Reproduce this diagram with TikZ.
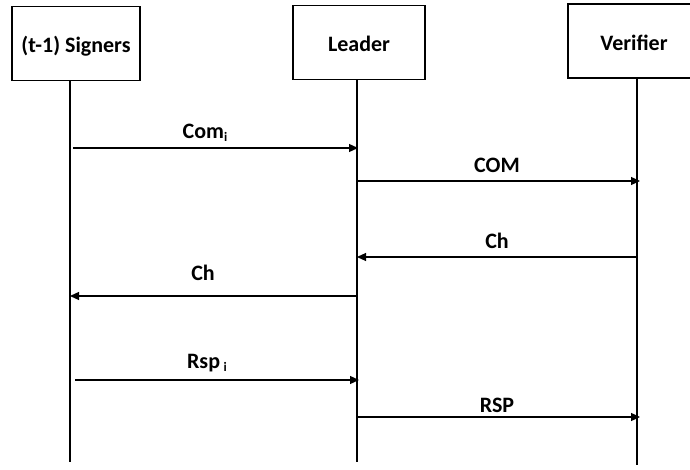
\documentclass[tikz,border=0pt]{standalone}
\usepackage{fontspec}
\setmainfont{Carlito}
\usetikzlibrary{arrows.meta}
\begin{document}
\begin{tikzpicture}[x=1pt,y=-1pt,
  actor/.style={draw,line width=1.2pt,minimum width=#1,minimum height=74pt,inner sep=0pt,
    text height=19pt,text depth=0pt,font=\bfseries\fontsize{22}{24}\selectfont},
  lifeline/.style={line width=1.2pt},
  msg/.style={line width=1.2pt,-{Triangle[length=9pt,width=8pt]}},
  lbl/.style={font=\bfseries\fontsize{22}{24}\selectfont,inner sep=0pt}]
\clip (0,0) rectangle (690,470);
\node[actor=128pt] (s) at (76,43.5) {(t-1) Signers};
\node[actor=132pt] (l) at (359,42.5) {Leader};
\node[actor=132pt] (v) at (634,41) {Verifier};
\coordinate (se) at (70,462);
\coordinate (le) at (357,462);
\coordinate (ve) at (637,465);
\draw[lifeline] (s.south -| se) -- (se);
\draw[lifeline] (l.south -| le) -- (le);
\draw[lifeline] (v.south -| ve) -- (ve);
% message endpoints
\coordinate (a1) at (73,148);  \coordinate (b1) at (358,148);
\coordinate (a2) at (357,181); \coordinate (b2) at (640,181);
\coordinate (a3) at (637,257); \coordinate (b3) at (357,257);
\coordinate (a4) at (357,296); \coordinate (b4) at (70,296);
\coordinate (a5) at (75,380);  \coordinate (b5) at (359,380);
\coordinate (a6) at (357,417); \coordinate (b6) at (640,417);
\draw[msg] (a1) -- (b1);
\draw[msg] (a2) -- (b2);
\draw[msg] (a3) -- (b3);
\draw[msg] (a4) -- (b4);
\draw[msg] (a5) -- (b5);
\draw[msg] (a6) -- (b6);
\node[lbl] (t1) at (205,133) {Com\raisebox{-3pt}{\fontsize{13}{14}\selectfont i}};
\node[lbl] (t2) at (497,165) {COM};
\node[lbl] (t3) at (497,241) {Ch};
\node[lbl] (t4) at (203,273) {Ch};
\node[lbl] (t5) at (207,363) {Rsp\,\raisebox{-3pt}{\fontsize{13}{14}\selectfont i}};
\node[lbl] (t6) at (497,405) {RSP};
\end{tikzpicture}
\end{document}
